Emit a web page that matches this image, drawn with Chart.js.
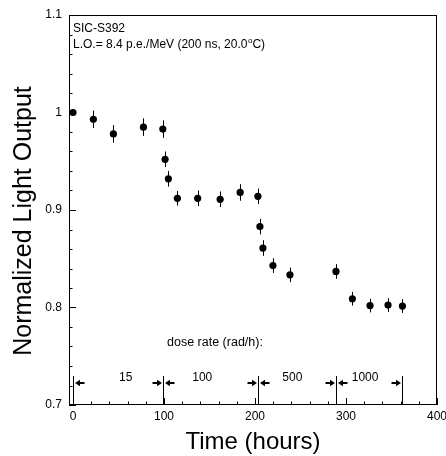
<!DOCTYPE html>
<html>
<head>
<meta charset="utf-8">
<script src="https://cdn.jsdelivr.net/npm/chart.js@4.4.1/dist/chart.umd.min.js"></script>
<style>
  html, body { margin: 0; padding: 0; background: #fff; }
  canvas { display: block; }
</style>
</head>
<body>
<canvas id="chart" width="446" height="456"></canvas>
<script>
// Normalized light output of SIC-S392 vs irradiation time
const hours = [0, 22.4, 44.4, 77.4, 98.7, 101.2, 104.8, 114.7, 137, 161.7, 183.7, 203.2, 205.4, 208.7, 219.7, 238.4, 289, 307, 326.4, 346.2, 362]
const lightOutput = [1.000, 0.993, 0.978, 0.985, 0.983, 0.952, 0.932, 0.912, 0.912, 0.911, 0.918, 0.914, 0.883, 0.861, 0.843, 0.8335, 0.837, 0.809, 0.802, 0.8025, 0.8015]
const lightError = [0, 0.009, 0.009, 0.009, 0.009, 0.008, 0.008, 0.0075, 0.008, 0.008, 0.0085, 0.008, 0.008, 0.008, 0.0075, 0.0075, 0.0075, 0.007, 0.007, 0.007, 0.007]

// dose rate periods (hours) and their rates
const doseBounds = [0, 99, 203, 289, 362]
const doseRates = ['15', '100', '500', '1000']
const doseLabelHours = [58, 142, 241, 321]

const xTickLabels = [0, 100, 200, 300, 400]
const yTickLabels = [0.7, 0.8, 0.9, 1, 1.1]

const FONT = "'Liberation Sans', Arial, sans-serif"

const isMajor = (v, list) => list.some(t => Math.abs(t - v) < 1e-6)

const decorations = {
  id: 'decorations',
  beforeDatasetsDraw(chart) {
    // vertical error bars
    const { ctx, scales: { x, y } } = chart
    ctx.save()
    ctx.strokeStyle = '#000'
    ctx.lineWidth = 1
    hours.forEach((h, i) => {
      if (!lightError[i]) return
      const px = Math.round(x.getPixelForValue(h)) + 0.5
      ctx.beginPath()
      ctx.moveTo(px, y.getPixelForValue(lightOutput[i] + lightError[i]))
      ctx.lineTo(px, y.getPixelForValue(lightOutput[i] - lightError[i]))
      ctx.stroke()
    })
    ctx.restore()
  },
  afterDraw(chart) {
    const { ctx, chartArea: a, scales: { x, y } } = chart
    ctx.save()
    ctx.strokeStyle = '#000'
    ctx.fillStyle = '#000'
    ctx.lineWidth = 1

    // frame
    ctx.strokeRect(a.left + 0.5, a.top + 0.5, a.right - a.left - 1, a.bottom - a.top - 1)

    // inner ticks
    ctx.beginPath()
    y.ticks.forEach(t => {
      const py = Math.round(y.getPixelForValue(t.value)) + 0.5
      const len = isMajor(t.value, yTickLabels) ? 7 : 3.5
      ctx.moveTo(a.left, py)
      ctx.lineTo(a.left + len, py)
    })
    x.ticks.forEach(t => {
      const px = Math.round(x.getPixelForValue(t.value)) + 0.5
      const len = isMajor(t.value, xTickLabels) ? 7 : 3.5
      ctx.moveTo(px, a.bottom)
      ctx.lineTo(px, a.bottom - len)
    })
    ctx.stroke()

    // dose period markers
    const yTop = y.getPixelForValue(0.7298)
    const yArrow = Math.round(y.getPixelForValue(0.7224))
    const arrow = (tail, tip) => {
      const dir = Math.sign(tip - tail)
      ctx.lineWidth = 2
      ctx.beginPath()
      ctx.moveTo(tail, yArrow)
      ctx.lineTo(tip - dir * 3, yArrow)
      ctx.stroke()
      ctx.beginPath()
      ctx.moveTo(tip, yArrow)
      ctx.lineTo(tip - dir * 5, yArrow - 3.2)
      ctx.lineTo(tip - dir * 5, yArrow + 3.2)
      ctx.closePath()
      ctx.fill()
      ctx.lineWidth = 1
    }
    doseBounds.forEach((b, i) => {
      const px = Math.round(x.getPixelForValue(b)) + 0.5
      ctx.beginPath()
      ctx.moveTo(px, yTop)
      ctx.lineTo(px, a.bottom)
      ctx.stroke()
      if (i > 0) arrow(px - 11, px - 1.5)
      if (i < doseBounds.length - 1) arrow(px + 11, px + 1.5)
    })

    ctx.font = '12px ' + FONT
    ctx.textAlign = 'center'
    ctx.textBaseline = 'middle'
    doseRates.forEach((r, i) => {
      ctx.fillText(r, x.getPixelForValue(doseLabelHours[i]), y.getPixelForValue(0.728))
    })
    ctx.font = '12.5px ' + FONT
    ctx.fillText('dose rate (rad/h):', x.getPixelForValue(156), y.getPixelForValue(0.764))

    // sample labels
    ctx.font = '12px ' + FONT
    ctx.textAlign = 'left'
    ctx.fillText('SIC-S392', a.left + 4, a.top + 14)
    let tx = a.left + 4
    const ty = a.top + 30
    const part1 = 'L.O.= 8.4 p.e./MeV (200 ns, 20.0'
    ctx.fillText(part1, tx, ty)
    tx += ctx.measureText(part1).width
    ctx.font = '8px ' + FONT
    ctx.fillText('o', tx + 0.5, ty - 4)
    tx += ctx.measureText('o').width + 0.5
    ctx.font = '12px ' + FONT
    ctx.fillText('C)', tx, ty)

    // axis titles
    ctx.textAlign = 'center'
    ctx.font = '24px ' + FONT
    ctx.fillText('Time (hours)', (a.left + a.right) / 2, 442)
    ctx.translate(24, 221)
    ctx.rotate(-Math.PI / 2)
    ctx.font = '25px ' + FONT
    ctx.fillText('Normalized Light Output', 0, 0)
    ctx.restore()
  }
}

new Chart(document.getElementById('chart'), {
  type: 'scatter',
  data: {
    datasets: [{
      data: hours.map((h, i) => ({ x: h, y: lightOutput[i] })),
      backgroundColor: '#000',
      borderColor: '#000',
      pointRadius: 3.6,
      pointHoverRadius: 3.6,
      borderWidth: 0
    }]
  },
  options: {
    responsive: false,
    animation: false,
    events: [],
    layout: { padding: { left: 0, top: 15, right: 9, bottom: 0 } },
    plugins: { legend: { display: false }, tooltip: { enabled: false } },
    scales: {
      x: {
        type: 'linear',
        min: -4.4,
        max: 400,
        afterFit: s => { s.height = 51; s.paddingRight = 0 },
        grid: { display: false, drawTicks: false },
        border: { display: false },
        ticks: {
          stepSize: 20,
          includeBounds: false,
          autoSkip: false,
          maxRotation: 0,
          padding: 4,
          color: '#000',
          font: { family: FONT, size: 12 },
          callback: v => isMajor(v, xTickLabels) ? String(v) : ''
        }
      },
      y: {
        type: 'linear',
        min: 0.7,
        max: 1.1,
        afterFit: s => { s.width = 69 },
        grid: { display: false, drawTicks: false },
        border: { display: false },
        ticks: {
          stepSize: 0.02,
          autoSkip: false,
          padding: 7,
          color: '#000',
          font: { family: FONT, size: 12 },
          callback: v => isMajor(v, yTickLabels) ? String(Math.round(v * 10) / 10) : ''
        }
      }
    }
  },
  plugins: [decorations]
})
</script>
</body>
</html>
